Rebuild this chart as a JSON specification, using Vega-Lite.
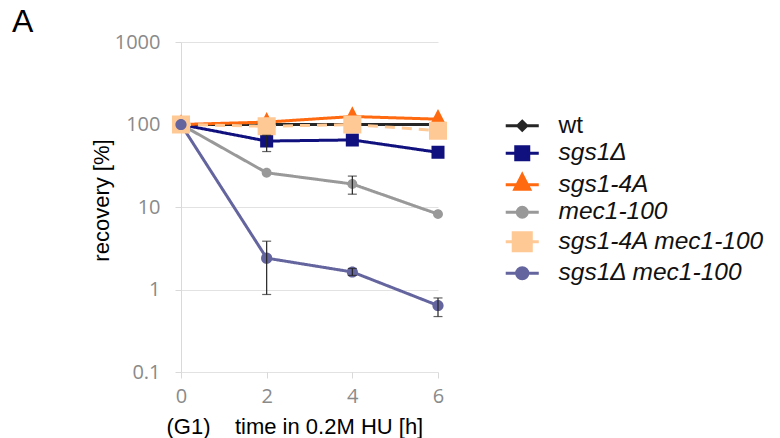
{
  "$schema": "https://vega.github.io/schema/vega-lite/v6.json",
  "width": 257,
  "height": 330,
  "autosize": {"type": "none"},
  "padding": {"left": 181, "top": 42, "right": 342, "bottom": 66},
  "background": "white",
  "title": {"text": "A", "anchor": "start", "frame": "group", "dx": -169, "dy": 38, "fontSize": 32, "font": "Liberation Sans", "fontWeight": "normal", "color": "black", "baseline": "alphabetic", "offset": 6},
  "config": {"view": {"stroke": null}, "font": "Open Sans"},
  "data": {"values": [
    {"strain": "wt", "t": 0, "v": 100},
    {"strain": "wt", "t": 2, "v": 100},
    {"strain": "wt", "t": 4, "v": 100},
    {"strain": "wt", "t": 6, "v": 100},
    {"strain": "sgs1Δ", "t": 0, "v": 100},
    {"strain": "sgs1Δ", "t": 2, "v": 63, "lo": 47, "hi": 74},
    {"strain": "sgs1Δ", "t": 4, "v": 65},
    {"strain": "sgs1Δ", "t": 6, "v": 46},
    {"strain": "sgs1-4A", "t": 0, "v": 100},
    {"strain": "sgs1-4A", "t": 2, "v": 107},
    {"strain": "sgs1-4A", "t": 4, "v": 125},
    {"strain": "sgs1-4A", "t": 6, "v": 116},
    {"strain": "mec1-100", "t": 0, "v": 100},
    {"strain": "mec1-100", "t": 2, "v": 26},
    {"strain": "mec1-100", "t": 4, "v": 19, "lo": 14.3, "hi": 23.7},
    {"strain": "mec1-100", "t": 6, "v": 8.2},
    {"strain": "sgs1-4A mec1-100", "t": 0, "v": 100},
    {"strain": "sgs1-4A mec1-100", "t": 2, "v": 95},
    {"strain": "sgs1-4A mec1-100", "t": 4, "v": 100},
    {"strain": "sgs1-4A mec1-100", "t": 6, "v": 84},
    {"strain": "sgs1Δ mec1-100", "t": 0, "v": 100},
    {"strain": "sgs1Δ mec1-100", "t": 2, "v": 2.4, "lo": 0.87, "hi": 3.85},
    {"strain": "sgs1Δ mec1-100", "t": 4, "v": 1.63, "lo": 1.48, "hi": 1.8},
    {"strain": "sgs1Δ mec1-100", "t": 6, "v": 0.64, "lo": 0.47, "hi": 0.79}
  ]},
  "encoding": {
    "x": {"field": "t", "type": "quantitative",
      "scale": {"domain": [0, 6], "nice": false},
      "axis": {"values": [0, 2, 4, 6], "grid": false, "domain": false, "ticks": true, "tickColor": "#d9d9d9", "tickSize": 6,
        "labelColor": "#8a8a8a", "labelFontSize": 20, "labelFont": "Open Sans", "labelPadding": 8, "labelFlush": false,
        "title": "(G1)\u00a0\u00a0\u00a0\u00a0time in 0.2M HU [h]", "titleFont": "Liberation Sans", "titleFontSize": 22, "titleFontWeight": "normal", "titleColor": "black",
        "titleX": -15, "titleY": 61, "titleAlign": "left", "titleAnchor": "start", "titleBaseline": "alphabetic"}},
    "y": {"field": "v", "type": "quantitative", "title": "recovery [%]",
      "scale": {"type": "log", "domain": [0.1, 1000]},
      "axis": {"values": [0.1, 1, 10, 100, 1000], "labelExpr": "datum.value < 1 ? '0.1' : format(datum.value, 'd')",
        "grid": true, "gridColor": "#e2e2e2", "gridWidth": 1, "domain": true, "domainColor": "#d9d9d9", "ticks": true, "tickColor": "#d9d9d9", "tickSize": 6,
        "labelColor": "#8a8a8a", "labelFontSize": 20, "labelFont": "Open Sans", "labelPadding": 15, "labelFlush": false,
        "titleFont": "Liberation Sans", "titleFontSize": 22, "titleFontWeight": "normal", "titleColor": "black",
        "titleX": -73, "titleY": 158, "titleAngle": -90, "titleAlign": "center", "titleBaseline": "alphabetic"}}
  },
  "layer": [
    {
      "mark": {"type": "line", "strokeWidth": 3},
      "encoding": {
        "color": {"field": "strain", "type": "nominal",
          "scale": {"domain": ["wt", "sgs1Δ", "sgs1-4A", "mec1-100", "sgs1-4A mec1-100", "sgs1Δ mec1-100"],
                    "range": ["#262626", "#10107f", "#ff6a10", "#999999", "#ffc995", "#64649e"]},
          "legend": {"orient": "none", "legendX": 329, "legendY": 71.5, "title": null, "padding": 0,
            "labelFont": "Liberation Sans", "labelFontSize": 24.5, "labelColor": "#111111", "labelLimit": 400,
            "labelFontStyle": {"expr": "datum.label == 'wt' ? 'normal' : 'italic'"},
            "symbolSize": 196, "symbolStrokeWidth": 3, "symbolStrokeColor": {"expr": "scale('color', datum.value)"},
            "symbolOpacity": 1, "labelOffset": 24, "rowPadding": 2.5}},
        "strokeDash": {"condition": {"test": "datum.strain === 'sgs1-4A mec1-100'", "value": [10, 7]}, "value": [1, 0]}
      }
    },
    {
      "mark": {"type": "point", "filled": true, "size": 196, "opacity": 1, "strokeWidth": 0},
      "encoding": {
        "color": {"field": "strain", "type": "nominal"},
        "shape": {"field": "strain", "type": "nominal",
          "scale": {"domain": ["wt", "sgs1Δ", "sgs1-4A", "mec1-100", "sgs1-4A mec1-100", "sgs1Δ mec1-100"],
            "range": [
              "M-2.36,0H2.36M0,-0.64L0.64,0L0,0.64L-0.64,0Z",
              "M-2.36,0H2.36M-0.93,-0.93H0.93V0.93H-0.93Z",
              "M-2.36,0H2.36M0,-1.45L1.07,0.63H-1.07Z",
              "M-2.36,0H2.36M0.71,0A0.71,0.71,0,1,1,-0.71,0A0.71,0.71,0,1,1,0.71,0Z",
              "M-2.36,0H2.36M-1.29,-1.29H1.29V1.29H-1.29Z",
              "M-2.36,0H2.36M0.8,0A0.8,0.8,0,1,1,-0.8,0A0.8,0.8,0,1,1,0.8,0Z"
            ]},
          "legend": {"orient": "none", "legendX": 329, "legendY": 71.5, "title": null, "padding": 0,
            "labelFont": "Liberation Sans", "labelFontSize": 24.5, "labelColor": "#111111", "labelLimit": 400,
            "labelFontStyle": {"expr": "datum.label == 'wt' ? 'normal' : 'italic'"},
            "symbolSize": 196, "symbolStrokeWidth": 3, "symbolStrokeColor": {"expr": "scale('color', datum.value)"},
            "symbolOpacity": 1, "labelOffset": 24, "rowPadding": 2.5}}
      }
    },
    {
      "transform": [{"filter": "isValid(datum.lo)"}],
      "mark": {"type": "errorbar", "ticks": {"size": 9, "thickness": 1.2, "color": "#222222"}, "thickness": 1.2, "color": "#222222"},
      "encoding": {
        "y": {"field": "lo", "type": "quantitative", "title": "recovery [%]"},
        "y2": {"field": "hi"}
      }
    }
  ]
}
